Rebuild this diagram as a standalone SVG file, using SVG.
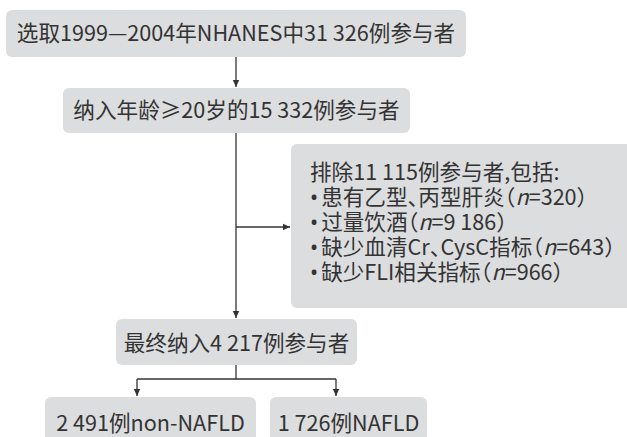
<svg xmlns="http://www.w3.org/2000/svg" width="627" height="437" viewBox="0 0 627 437">
<defs>
<style>
.box{fill:#dcdddf;}
.t{font-family:"Noto Sans CJK SC","Source Han Sans SC",sans-serif;font-size:21.6px;fill:#333333;font-feature-settings:"halt";}
.c{text-anchor:middle;}
.b{font-family:"Noto Sans","DejaVu Sans",sans-serif;}
.i{font-style:italic;}
.ln{stroke:#333333;stroke-width:1.3;fill:none;}
</style>
<marker id="ah" markerWidth="8" markerHeight="8" refX="7" refY="4" orient="auto" markerUnits="userSpaceOnUse">
<path d="M0,0.8 L7,4 L0,7.2 Z" fill="#333333"/>
</marker>
</defs>
<rect width="627" height="437" fill="#ffffff"/>
<g id="connectors">
<line class="ln" x1="236" y1="57" x2="236" y2="87" marker-end="url(#ah)"/>
<line class="ln" x1="236" y1="133" x2="236" y2="318" marker-end="url(#ah)"/>
<line class="ln" x1="236" y1="227" x2="290" y2="227" marker-end="url(#ah)"/>
<polyline class="ln" points="236,365 236,379"/>
<polyline class="ln" points="137,379 336,379"/>
<line class="ln" x1="137" y1="379" x2="137" y2="396" marker-end="url(#ah)"/>
<line class="ln" x1="336" y1="379" x2="336" y2="396" marker-end="url(#ah)"/>
</g>
<g id="n1">
<rect class="box" x="6" y="10" width="460" height="47" rx="6"/>
<text class="t c" x="236" y="41">选取1999—2004年NHANES中31 326例参与者</text>
</g>
<g id="n2">
<rect class="box" x="63" y="88" width="347" height="45" rx="6"/>
<text class="t c" x="236.5" y="118">纳入年龄≥20岁的15 332例参与者</text>
</g>
<g id="n3">
<rect class="box" x="291" y="144" width="345" height="164" rx="6"/>
<text class="t" x="310" y="180">排除11 115例参与者,包括:</text>
<text class="t" x="310" y="205"><tspan class="b">•</tspan><tspan dx="3">患有乙型、丙型肝炎（</tspan><tspan class="i">n</tspan>=320）</text>
<text class="t" x="310" y="230"><tspan class="b">•</tspan><tspan dx="3">过量饮酒（</tspan><tspan class="i">n</tspan>=9 186）</text>
<text class="t" x="310" y="255"><tspan class="b">•</tspan><tspan dx="3">缺少血清Cr、CysC指标（</tspan><tspan class="i">n</tspan>=643）</text>
<text class="t" x="310" y="280"><tspan class="b">•</tspan><tspan dx="3">缺少FLI相关指标（</tspan><tspan class="i">n</tspan>=966）</text>
</g>
<g id="n4">
<rect class="box" x="116" y="319" width="241" height="46" rx="6"/>
<text class="t c" x="236.5" y="351">最终纳入4 217例参与者</text>
</g>
<g id="n5">
<rect class="box" x="45" y="397" width="211" height="50" rx="6"/>
<text class="t c" x="150.5" y="431">2 491例non-NAFLD</text>
</g>
<g id="n6">
<rect class="box" x="270" y="397" width="157" height="50" rx="6"/>
<text class="t c" x="348.5" y="431">1 726例NAFLD</text>
</g>
</svg>
